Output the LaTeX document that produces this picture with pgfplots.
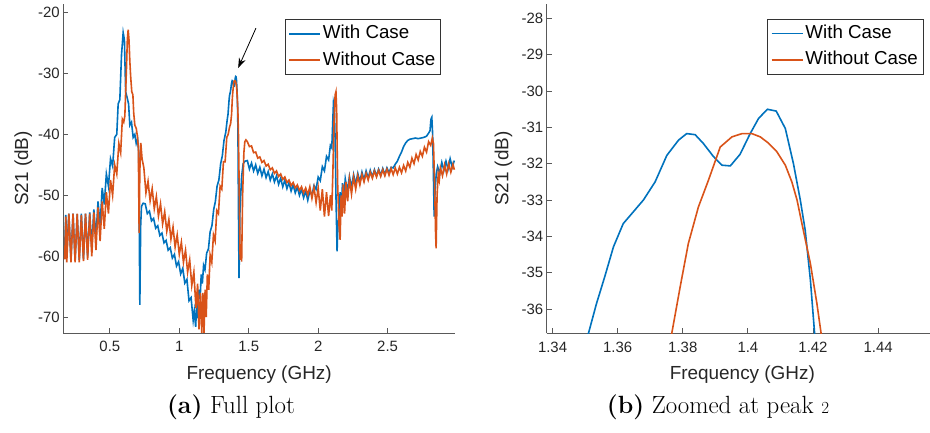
\documentclass[border=0pt]{standalone}
\usepackage{fontspec}
\usepackage{pgfplots}
\usepackage{pgfplotstable}
\pgfplotsset{compat=1.18}
\usetikzlibrary{arrows.meta}
\newfontfamily\arial{Liberation Sans}
\definecolor{mblue}{RGB}{0,114,189}
\definecolor{morange}{RGB}{217,83,25}

% S21 with case
\pgfplotstableread{
x y
0.175 -58.7
0.183 -53.2
0.190 -59.5
0.205 -53.0
0.220 -60.6
0.235 -53.0
0.250 -60.7
0.265 -53.1
0.280 -60.6
0.295 -53.0
0.310 -60.5
0.325 -53.0
0.340 -60.0
0.355 -52.8
0.370 -58.6
0.385 -52.3
0.400 -57.0
0.415 -51.0
0.430 -55.0
0.445 -48.8
0.460 -51.5
0.475 -46.5
0.490 -48.5
0.505 -44.0
0.520 -45.2
0.535 -40.5
0.550 -40.0
0.560 -35.0
0.572 -34.3
0.584 -27.0
0.596 -23.3
0.605 -24.5
0.614 -33.0
0.625 -34.0
0.635 -35.0
0.644 -38.5
0.656 -38.0
0.668 -40.5
0.680 -40.0
0.690 -41.5
0.700 -40.8
0.708 -43.0
0.716 -68.0
0.722 -55.0
0.728 -51.8
0.740 -51.3
0.755 -51.4
0.770 -53.0
0.785 -52.6
0.800 -54.2
0.815 -53.8
0.830 -55.4
0.845 -55.0
0.860 -56.6
0.875 -56.2
0.890 -57.8
0.905 -57.4
0.920 -59.0
0.935 -58.6
0.950 -60.3
0.965 -59.7
0.980 -61.6
0.995 -60.9
1.010 -62.9
1.025 -62.0
1.040 -64.4
1.055 -63.8
1.070 -67.3
1.085 -66.8
1.100 -70.5
1.108 -69.0
1.118 -71.6
1.126 -67.5
1.134 -70.2
1.142 -65.5
1.150 -67.0
1.158 -63.0
1.166 -64.5
1.175 -61.5
1.185 -62.2
1.197 -59.5
1.210 -58.8
1.222 -56.0
1.235 -55.0
1.248 -52.3
1.260 -51.0
1.272 -48.5
1.285 -47.5
1.298 -44.8
1.310 -43.5
1.322 -41.0
1.335 -39.6
1.345 -37.6
1.351 -36.68
1.3535 -35.85
1.356 -35.12
1.3587 -34.29
1.3617 -33.65
1.3679 -33.0
1.3715 -32.5
1.3751 -31.77
1.3787 -31.35
1.3812 -31.17
1.3838 -31.2
1.3863 -31.44
1.3894 -31.8
1.392 -32.04
1.3946 -32.06
1.3976 -31.74
1.4007 -31.17
1.4033 -30.75
1.406 -30.5
1.4087 -30.55
1.4115 -31.03
1.414 -32.0
1.4161 -33.0
1.4176 -33.83
1.4192 -35.2
1.4205 -36.68
1.4225 -40.0
1.426 -52.0
1.430 -63.6
1.437 -52.4
1.449 -46.9
1.460 -44.8
1.473 -44.4
1.490 -44.3
1.505 -45.7
1.520 -44.7
1.535 -46.0
1.550 -45.0
1.565 -46.4
1.580 -45.4
1.595 -46.8
1.610 -45.7
1.625 -47.1
1.640 -46.1
1.655 -47.5
1.670 -46.5
1.685 -47.8
1.700 -46.8
1.715 -48.2
1.730 -47.2
1.745 -48.6
1.760 -47.5
1.775 -48.9
1.790 -47.9
1.805 -49.3
1.820 -48.3
1.835 -49.6
1.850 -48.6
1.865 -50.0
1.880 -49.0
1.895 -50.4
1.910 -49.3
1.925 -50.8
1.940 -49.3
1.955 -50.0
1.970 -48.4
1.985 -49.0
2.000 -47.0
2.015 -47.6
2.030 -45.3
2.045 -46.0
2.060 -43.6
2.075 -44.2
2.088 -41.8
2.098 -42.2
2.104 -38.5
2.110 -34.8
2.116 -35.5
2.122 -41.0
2.128 -50.0
2.136 -59.2
2.142 -55.0
2.150 -53.5
2.158 -49.5
2.166 -52.5
2.175 -48.0
2.185 -50.5
2.195 -47.3
2.210 -49.3
2.225 -46.9
2.240 -48.7
2.255 -46.6
2.270 -48.2
2.285 -46.4
2.300 -47.8
2.315 -46.2
2.330 -47.5
2.345 -46.0
2.360 -47.2
2.375 -45.9
2.390 -47.0
2.405 -45.8
2.420 -46.8
2.435 -45.7
2.450 -46.7
2.465 -45.6
2.480 -46.6
2.495 -45.5
2.510 -46.3
2.525 -45.4
2.540 -45.5
2.555 -44.9
2.570 -44.4
2.585 -43.6
2.600 -42.9
2.615 -42.0
2.630 -41.4
2.645 -41.0
2.660 -40.8
2.680 -40.7
2.700 -40.6
2.720 -40.7
2.740 -40.6
2.760 -40.5
2.780 -40.3
2.795 -39.8
2.805 -39.4
2.812 -37.5
2.818 -37.2
2.824 -40.0
2.830 -47.0
2.835 -53.5
2.842 -49.0
2.850 -46.5
2.860 -45.3
2.875 -46.4
2.890 -44.6
2.905 -45.9
2.920 -44.4
2.935 -45.7
2.950 -44.0
2.965 -45.4
2.980 -44.3
}\withcase

% S21 without case
\pgfplotstableread{
x y
0.175 -60.5
0.183 -53.5
0.190 -61.0
0.205 -53.0
0.220 -61.0
0.235 -53.0
0.250 -61.0
0.265 -53.0
0.280 -61.0
0.295 -53.2
0.310 -60.8
0.325 -53.0
0.340 -60.6
0.355 -53.0
0.370 -60.0
0.385 -52.8
0.400 -59.0
0.415 -52.0
0.430 -57.5
0.445 -51.0
0.460 -55.5
0.475 -49.5
0.490 -53.0
0.505 -47.5
0.520 -50.0
0.535 -45.0
0.550 -46.5
0.565 -41.5
0.578 -43.0
0.590 -37.5
0.600 -38.0
0.608 -37.0
0.614 -33.0
0.620 -29.0
0.626 -24.5
0.632 -22.8
0.638 -24.5
0.644 -28.0
0.650 -30.5
0.658 -33.0
0.666 -33.5
0.672 -36.5
0.680 -38.5
0.690 -39.0
0.698 -40.2
0.705 -42.0
0.711 -56.2
0.716 -46.0
0.723 -41.4
0.732 -44.0
0.745 -45.5
0.760 -49.6
0.775 -47.7
0.790 -50.9
0.805 -48.9
0.820 -52.2
0.835 -50.2
0.850 -53.4
0.865 -51.4
0.880 -54.7
0.895 -52.7
0.910 -55.9
0.925 -54.0
0.940 -57.2
0.955 -55.2
0.970 -58.5
0.985 -56.5
1.000 -59.7
1.015 -57.7
1.030 -61.0
1.045 -59.0
1.060 -62.6
1.075 -60.6
1.090 -64.8
1.105 -62.6
1.120 -68.5
1.132 -64.5
1.142 -72.0
1.152 -66.0
1.162 -72.6
1.170 -66.0
1.178 -72.6
1.186 -65.5
1.194 -70.0
1.202 -63.0
1.212 -65.5
1.222 -59.8
1.234 -61.0
1.246 -56.5
1.258 -57.5
1.270 -52.5
1.282 -53.0
1.294 -48.5
1.306 -49.0
1.318 -44.5
1.330 -44.5
1.342 -40.5
1.352 -40.0
1.362 -38.8
1.370 -38.2
1.3766 -36.68
1.3792 -35.39
1.3817 -34.2
1.3848 -33.19
1.3879 -32.45
1.3915 -31.54
1.3951 -31.26
1.3982 -31.17
1.4012 -31.17
1.4038 -31.26
1.4063 -31.43
1.4089 -31.67
1.4115 -32.04
1.4135 -32.5
1.4151 -33.0
1.4166 -33.65
1.4192 -34.75
1.4212 -35.85
1.4225 -36.68
1.426 -40.0
1.432 -50.0
1.438 -60.6
1.444 -58.0
1.449 -60.9
1.456 -50.0
1.465 -43.0
1.472 -41.2
1.480 -40.9
1.490 -41.2
1.505 -42.0
1.520 -41.9
1.535 -43.0
1.550 -42.9
1.565 -43.9
1.580 -43.7
1.595 -44.6
1.610 -44.3
1.625 -45.2
1.640 -44.9
1.655 -45.8
1.670 -45.5
1.685 -46.4
1.700 -46.0
1.715 -46.9
1.730 -46.5
1.745 -47.4
1.760 -47.0
1.775 -47.9
1.790 -47.5
1.805 -48.4
1.820 -47.9
1.835 -48.8
1.850 -48.3
1.865 -49.2
1.880 -48.6
1.895 -49.6
1.910 -48.8
1.925 -49.9
1.940 -48.6
1.955 -50.5
1.970 -48.7
1.985 -51.2
2.000 -48.8
2.015 -52.5
2.030 -49.0
2.045 -53.5
2.060 -49.5
2.075 -53.4
2.088 -50.0
2.098 -52.5
2.106 -46.0
2.114 -38.0
2.122 -33.5
2.128 -33.0
2.133 -36.0
2.140 -48.0
2.150 -55.0
2.158 -57.3
2.165 -50.0
2.172 -53.5
2.180 -48.2
2.190 -53.0
2.200 -47.8
2.212 -51.0
2.225 -47.3
2.240 -49.8
2.255 -47.0
2.270 -49.0
2.285 -46.8
2.300 -48.3
2.315 -46.6
2.330 -47.8
2.345 -46.4
2.360 -47.5
2.375 -46.2
2.390 -47.2
2.405 -46.0
2.420 -47.0
2.435 -45.9
2.450 -46.9
2.465 -45.8
2.480 -46.8
2.495 -45.7
2.510 -46.7
2.525 -45.6
2.540 -46.6
2.555 -45.5
2.570 -46.5
2.585 -45.4
2.600 -46.3
2.615 -45.1
2.630 -46.0
2.645 -44.6
2.660 -45.4
2.675 -43.9
2.690 -44.8
2.705 -43.3
2.720 -44.2
2.735 -42.8
2.750 -43.6
2.765 -42.1
2.780 -42.9
2.795 -41.2
2.810 -41.8
2.822 -40.6
2.830 -41.5
2.838 -48.0
2.845 -56.0
2.849 -58.7
2.856 -50.0
2.864 -46.5
2.872 -47.5
2.880 -45.5
2.895 -46.8
2.910 -45.0
2.925 -46.5
2.940 -44.8
2.955 -46.2
2.970 -44.9
2.980 -45.8
}\withoutcase

\pgfplotsset{
  matlab/.style={
    scale only axis,
    axis x line*=bottom, axis y line*=left,
    tick align=inside, major tick length=5bp,
    axis line style={black!65, line width=0.8bp},
    every tick/.style={black!65, line width=0.8bp},
    tick label style={font=\arial\fontsize{15}{18}\selectfont, text=black!85},
    /pgf/number format/assume math mode=true,
    xticklabel style={yshift=-5bp},
    label style={font=\arial\fontsize{19}{22}\selectfont, text=black!85},
    xlabel={Frequency (GHz)}, ylabel={S21 (dB)},
    xlabel style={at={(axis description cs:0.5,-0.14)}, anchor=base},
    legend cell align=left,
    legend image code/.code={\draw[##1, line width=1.6bp] (0bp,0bp) -- (31bp,0bp);},
    legend style={draw=black!80, line width=0.8bp, fill=white,
      font=\arial\fontsize{18.8}{22}\selectfont, anchor=north east,
      inner xsep=3bp, inner ysep=3.5bp, /tikz/row sep=5bp,
      nodes={inner sep=2bp, text height=13.5bp, text depth=4bp}},
    every axis plot/.append style={line width=1.6bp},
  }
}

\begin{document}
\begin{tikzpicture}

\begin{axis}[matlab,
  at={(63.3bp,100bp)}, anchor=south west,
  width=391.7bp, height=329bp,
  xmin=0.165, xmax=2.985, ymin=-72.6, ymax=-18.6,
  xtick={0.5,1,1.5,2,2.5}, ytick={-70,-60,-50,-40,-30,-20},
  ylabel style={at={(axis description cs:-0.09,0.5)}, anchor=base},
  legend style={at={(axis description cs:0.9635,0.954)}},
]
\addplot[mblue] table {\withcase};
\addlegendentry{With Case}
\addplot[morange] table {\withoutcase};
\addlegendentry{Without Case}
\draw[-{Stealth[length=10bp, width=7bp]}, line width=0.8bp, black]
  (axis cs:1.552,-22.56) -- (axis cs:1.424,-29.1);
\end{axis}

\begin{axis}[matlab,
  at={(546.7bp,99.7bp)}, anchor=south west,
  width=391.3bp, height=329.3bp,
  xmin=1.3382, xmax=1.4584, ymin=-36.67, ymax=-27.6,
  xtick={1.34,1.36,1.38,1.4,1.42,1.44},
  ytick={-36,-35,-34,-33,-32,-31,-30,-29,-28},
  ylabel style={at={(axis description cs:-0.098,0.5)}, anchor=base},
  legend style={at={(axis description cs:0.9624,0.9545)}},
  restrict x to domain=1.30:1.47,
]
\addplot[mblue] table {\withcase};
\addlegendentry{With Case}
\addplot[morange] table {\withoutcase};
\addlegendentry{Without Case}
\end{axis}

\node[anchor=base, font=\fontsize{25}{30}\selectfont] at (231bp,20bp) {\textbf{(a)} Full plot};
\node[anchor=base, font=\fontsize{25}{30}\selectfont] at (718bp,20bp) {\textbf{(b)} Zoomed at peak {\fontsize{17}{20}\selectfont 2}};

\pgfresetboundingbox
\path[use as bounding box] (0bp,0bp) rectangle (930bp,433bp);
\end{tikzpicture}
\end{document}
